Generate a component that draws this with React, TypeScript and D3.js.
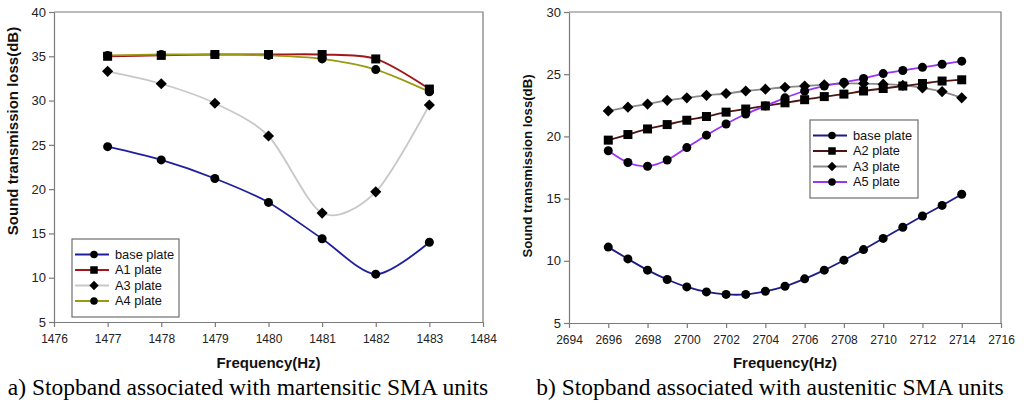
import { useEffect, useRef } from 'react';
import * as d3 from 'd3';

// left panel (martensitic)
const freqA = [1477, 1478, 1479, 1480, 1481, 1482, 1483];
const baseA = [24.8, 23.3, 21.2, 18.5, 14.4, 10.4, 14.0];
const a1A = [35.0, 35.1, 35.2, 35.2, 35.2, 34.7, 31.3];
const a3A = [33.3, 31.9, 29.7, 26.0, 17.3, 19.7, 29.5];
const a4A = [35.1, 35.2, 35.2, 35.1, 34.7, 33.5, 31.0];
const xTicksA = [1476, 1477, 1478, 1479, 1480, 1481, 1482, 1483, 1484];
const yTicksA = [5, 10, 15, 20, 25, 30, 35, 40];

// right panel (austenitic)
const freqB = [2696, 2697, 2698, 2699, 2700, 2701, 2702, 2703, 2704, 2705, 2706, 2707, 2708, 2709, 2710, 2711, 2712, 2713, 2714];
const baseB = [11.1, 10.15, 9.25, 8.5, 7.9, 7.5, 7.3, 7.3, 7.55, 7.95, 8.55, 9.25, 10.05, 10.9, 11.8, 12.7, 13.6, 14.45, 15.35];
const a2B = [19.7, 20.15, 20.6, 20.95, 21.3, 21.6, 21.95, 22.2, 22.45, 22.7, 22.95, 23.2, 23.4, 23.65, 23.85, 24.05, 24.25, 24.45, 24.55];
const a3B = [22.05, 22.35, 22.6, 22.9, 23.1, 23.3, 23.45, 23.65, 23.8, 23.95, 24.05, 24.15, 24.25, 24.25, 24.2, 24.1, 23.9, 23.6, 23.1];
const a5B = [18.85, 17.9, 17.6, 18.1, 19.1, 20.1, 21.0, 21.8, 22.45, 23.1, 23.65, 24.05, 24.35, 24.65, 25.05, 25.3, 25.55, 25.8, 26.05];
const xTicksB = [2694, 2696, 2698, 2700, 2702, 2704, 2706, 2708, 2710, 2712, 2714, 2716];
const yTicksB = [5, 10, 15, 20, 25, 30];

type Series = { name: string; values: number[]; color: string; marker: 'circle' | 'square' | 'diamond' };

const seriesA: Series[] = [
  { name: 'base plate', values: baseA, color: '#1f1f9e', marker: 'circle' },
  { name: 'A1 plate', values: a1A, color: '#a3171b', marker: 'square' },
  { name: 'A3 plate', values: a3A, color: '#c8c8c8', marker: 'diamond' },
  { name: 'A4 plate', values: a4A, color: '#9a9a12', marker: 'circle' },
];

const seriesB: Series[] = [
  { name: 'A3 plate', values: a3B, color: '#8a8a8a', marker: 'diamond' },
  { name: 'A2 plate', values: a2B, color: '#4e1414', marker: 'square' },
  { name: 'A5 plate', values: a5B, color: '#9933f5', marker: 'circle' },
  { name: 'base plate', values: baseB, color: '#1c1c86', marker: 'circle' },
];
const legendOrderB = ['base plate', 'A2 plate', 'A3 plate', 'A5 plate'];

const FONT = '"Liberation Sans", Arial, sans-serif';
const AXIS = '#7a7a7a';

function drawMarker(g: any, kind: string, cx: number, cy: number, size: number) {
  if (kind === 'circle') {
    g.append('circle').attr('cx', cx).attr('cy', cy).attr('r', size / 2).attr('fill', '#000');
  } else if (kind === 'square') {
    g.append('rect')
      .attr('x', cx - size / 2).attr('y', cy - size / 2)
      .attr('width', size).attr('height', size).attr('fill', '#000');
  } else {
    const h = size * 0.62;
    g.append('path')
      .attr('d', `M${cx},${cy - h}L${cx + h},${cy}L${cx},${cy + h}L${cx - h},${cy}Z`)
      .attr('fill', '#000');
  }
}

type PanelProps = {
  left: number; right: number; top: number; bottom: number;
  freq: number[]; series: Series[]; legendOrder: string[];
  xTicks: number[]; yTicks: number[];
  legend: { x: number; y: number; w: number; h: number };
  yTitle: { x: number; y: number; size: number };
  caption: string; captionX: number;
};

function Panel(p: PanelProps) {
  const ref = useRef<SVGGElement>(null);

  useEffect(() => {
    const g = d3.select(ref.current);
    g.selectAll('*').remove();

    const x = d3.scaleLinear().domain([p.xTicks[0], p.xTicks[p.xTicks.length - 1]]).range([p.left, p.right]);
    const y = d3.scaleLinear().domain([p.yTicks[0], p.yTicks[p.yTicks.length - 1]]).range([p.bottom, p.top]);

    // frame top + right
    g.append('path')
      .attr('d', `M${p.left},${p.top}H${p.right}V${p.bottom}`)
      .attr('fill', 'none').attr('stroke', AXIS).attr('stroke-width', 1.2);

    const xAxis = g.append('g')
      .attr('transform', `translate(0,${p.bottom})`)
      .call(d3.axisBottom(x).tickValues(p.xTicks).tickSize(5).tickSizeOuter(0).tickFormat(d3.format('d')));
    xAxis.selectAll('text').attr('dy', '1.05em').style('font-size', '12px');

    const yAxis = g.append('g')
      .attr('transform', `translate(${p.left},0)`)
      .call(d3.axisLeft(y).tickValues(p.yTicks).tickSize(5).tickSizeOuter(0));
    yAxis.selectAll('text').attr('x', -8).style('font-size', '13px');

    g.selectAll('.domain, .tick line').attr('stroke', AXIS).attr('stroke-width', 1.2);
    g.selectAll('.tick text').attr('fill', '#222').style('font-family', FONT);

    const line = d3.line<number>()
      .x((_, i) => x(p.freq[i]))
      .y((d) => y(d))
      .curve(d3.curveCardinal.tension(0.15));

    p.series.forEach((s) => {
      g.append('path')
        .datum(s.values)
        .attr('fill', 'none')
        .attr('stroke', s.color)
        .attr('stroke-width', 1.8)
        .attr('d', line);
    });
    p.series.forEach((s) => {
      const mg = g.append('g');
      s.values.forEach((v, i) => drawMarker(mg, s.marker, x(p.freq[i]), y(v), 9));
    });

    // legend
    const L = p.legend;
    const lg = g.append('g');
    lg.append('rect')
      .attr('x', L.x).attr('y', L.y).attr('width', L.w).attr('height', L.h)
      .attr('fill', '#fff').attr('stroke', '#6e6e6e').attr('stroke-width', 1.2);
    p.legendOrder.forEach((name, i) => {
      const s = p.series.find((d) => d.name === name)!;
      const cy = L.y + 15.5 + i * 15.5;
      lg.append('line')
        .attr('x1', L.x + 3).attr('x2', L.x + 37).attr('y1', cy).attr('y2', cy)
        .attr('stroke', s.color).attr('stroke-width', 1.8);
      drawMarker(lg, s.marker, L.x + 22, cy, 7.5);
      lg.append('text')
        .attr('x', L.x + 43).attr('y', cy).attr('dy', '0.35em')
        .style('font-family', FONT).style('font-size', '12.8px').attr('fill', '#111')
        .text(name);
    });

    // titles
    g.append('text')
      .attr('transform', `translate(${p.yTitle.x},${p.yTitle.y}) rotate(-90)`)
      .attr('text-anchor', 'middle').attr('dy', '0.35em')
      .style('font-family', FONT).style('font-size', `${p.yTitle.size}px`).style('font-weight', 'bold').attr('fill', '#111')
      .text('Sound transmission loss(dB)');
    g.append('text')
      .attr('x', (p.left + p.right) / 2).attr('y', 363).attr('dy', '0.35em')
      .attr('text-anchor', 'middle')
      .style('font-family', FONT).style('font-size', '15px').style('font-weight', 'bold').attr('fill', '#111')
      .text('Frequency(Hz)');
    g.append('text')
      .attr('x', p.captionX).attr('y', 387).attr('dy', '0.35em')
      .attr('text-anchor', 'middle')
      .style('font-family', '"Liberation Serif", "Times New Roman", serif').style('font-size', '23.5px').attr('fill', '#000')
      .text(p.caption);
  }, []);

  return <g ref={ref} />;
}

export default function App() {
  return (
    <svg width={1024} height={407} style={{ position: 'absolute', left: 0, top: 0, background: '#fff' }}>
      <Panel
        left={54} right={483} top={12} bottom={322}
        freq={freqA} series={seriesA} legendOrder={seriesA.map((s) => s.name)}
        xTicks={xTicksA} yTicks={yTicksA}
        legend={{ x: 72, y: 239, w: 107, h: 78 }}
        yTitle={{ x: 13, y: 131, size: 15 }}
        caption="a) Stopband associated with martensitic SMA units" captionX={248}
      />
      <Panel
        left={569} right={1001} top={12} bottom={323}
        freq={freqB} series={seriesB} legendOrder={legendOrderB}
        xTicks={xTicksB} yTicks={yTicksB}
        legend={{ x: 810, y: 120, w: 108, h: 78 }}
        yTitle={{ x: 527, y: 166, size: 13.2 }}
        caption="b) Stopband associated with austenitic SMA units" captionX={770}
      />
    </svg>
  );
}
